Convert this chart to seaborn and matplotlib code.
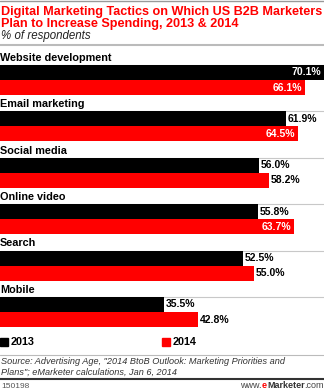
import matplotlib
matplotlib.use("Agg")
import matplotlib.pyplot as plt
import seaborn as sns
import pandas as pd
from matplotlib.offsetbox import TextArea, HPacker, AnchoredOffsetbox

categories = ["Website development", "Email marketing", "Social media",
              "Online video", "Search", "Mobile"]
values_2013 = [70.1, 61.9, 56.0, 55.8, 52.5, 35.5]
values_2014 = [66.1, 64.5, 58.2, 63.7, 55.0, 42.8]
years = ["2013", "2014"]

df = pd.DataFrame({
    "tactic": categories * 2,
    "year": [years[0]] * len(categories) + [years[1]] * len(categories),
    "value": values_2013 + values_2014,
})

sns.set_theme(style="white")
plt.rcParams["font.family"] = ["Liberation Sans", "DejaVu Sans"]

W, H = 324, 391
fig = plt.figure(figsize=(W / 100, H / 100), dpi=100)

def fy(p):
    return 1 - p / H

# axes from pixel y=50 to 330
ax = fig.add_axes([0, fy(330), 1, (330 - 50) / H])
BW = 0.647
sns.barplot(data=df, y="tactic", x="value", hue="year", orient="h",
            palette={"2013": "black", "2014": "#ff0000"}, width=BW,
            saturation=1, ax=ax, legend=False, linewidth=0, order=categories)
period = 46.4
ax.set_ylim((330 - 80) / period, (50 - 80) / period)
ax.set_xlim(0, 70.13)
ax.axis("off")

for i, cat in enumerate(categories):
    ax.annotate(cat, xy=(0, i - BW / 2), xytext=(0, 1.6), textcoords="offset points",
                ha="left", va="bottom", fontsize=7.8, fontweight="bold", color="black")
    ax.axhline(i - BW / 2, color="#c8c8c8", lw=0.8, zorder=0)

for cont, vals in zip(ax.containers, [values_2013, values_2014]):
    for bar, v in zip(cont, vals):
        yc = bar.get_y() + bar.get_height() / 2
        if v > 63:
            ax.annotate(f"{v:.1f}%", xy=(v, yc), xytext=(-2, 0), textcoords="offset points",
                        ha="right", va="center", fontsize=7.5, fontweight="bold", color="white")
        else:
            ax.annotate(f"{v:.1f}%", xy=(v, yc), xytext=(1.5, 0), textcoords="offset points",
                        ha="left", va="center", fontsize=7.5, fontweight="bold", color="black")

# title
fig.text(0.003, fy(11.5), "Digital Marketing Tactics on Which US B2B Marketers",
         color="#ff0000", fontsize=9.1, fontweight="bold", va="center", ha="left")
fig.text(0.003, fy(23.5), "Plan to Increase Spending, 2013 & 2014",
         color="#ff0000", fontsize=9.1, fontweight="bold", va="center", ha="left")
fig.text(0.003, fy(36), "% of respondents", color="#222222", fontsize=8.3,
         style="italic", va="center", ha="left")

# lines
fig.add_artist(plt.Line2D([0, 1], [fy(0.5), fy(0.5)], color="#999999", lw=1))
fig.add_artist(plt.Line2D([0, 1], [fy(45), fy(45)], color="#bbbbbb", lw=1.5))
fig.add_artist(plt.Line2D([0, 1], [fy(355), fy(355)], color="#bbbbbb", lw=0.8))
fig.add_artist(plt.Line2D([0, 1], [fy(378.5), fy(378.5)], color="#333333", lw=1.5))

# legend
for x0, col, lab in [(0, "black", years[0]), (162, "#ff0000", years[1])]:
    fig.add_artist(plt.Rectangle((x0 / W, fy(346)), 8 / W, 8 / H, color=col,
                                 transform=fig.transFigure))
    fig.text((x0 + 11) / W, fy(342), lab, fontsize=7.8, fontweight="bold",
             va="center", ha="left", color="black")

# source
fig.text(0.003, fy(362), 'Source: Advertising Age, "2014 BtoB Outlook: Marketing Priorities and',
         fontsize=6.6, style="italic", color="#333333", va="center", ha="left")
fig.text(0.003, fy(372.5), 'Plans"; eMarketer calculations, Jan 6, 2014',
         fontsize=6.6, style="italic", color="#333333", va="center", ha="left")
fig.text(0.003, fy(386), "150198", fontsize=6, color="#555555", va="center", ha="left")

# brand
parts = [TextArea("www.", textprops=dict(fontsize=6.5, color="#444444")),
         TextArea("e", textprops=dict(fontsize=6.5, color="#ff0000", fontweight="bold")),
         TextArea("Marketer", textprops=dict(fontsize=6.5, color="#333333", fontweight="bold")),
         TextArea(".com", textprops=dict(fontsize=6.5, color="#444444"))]
pack = HPacker(children=parts, align="baseline", pad=0, sep=0)
ab = AnchoredOffsetbox(loc="center right", child=pack, pad=0, frameon=False,
                       bbox_to_anchor=(1.0, fy(386)), bbox_transform=fig.transFigure,
                       borderpad=0)
fig.add_artist(ab)

fig.savefig("out.png", dpi=100)
